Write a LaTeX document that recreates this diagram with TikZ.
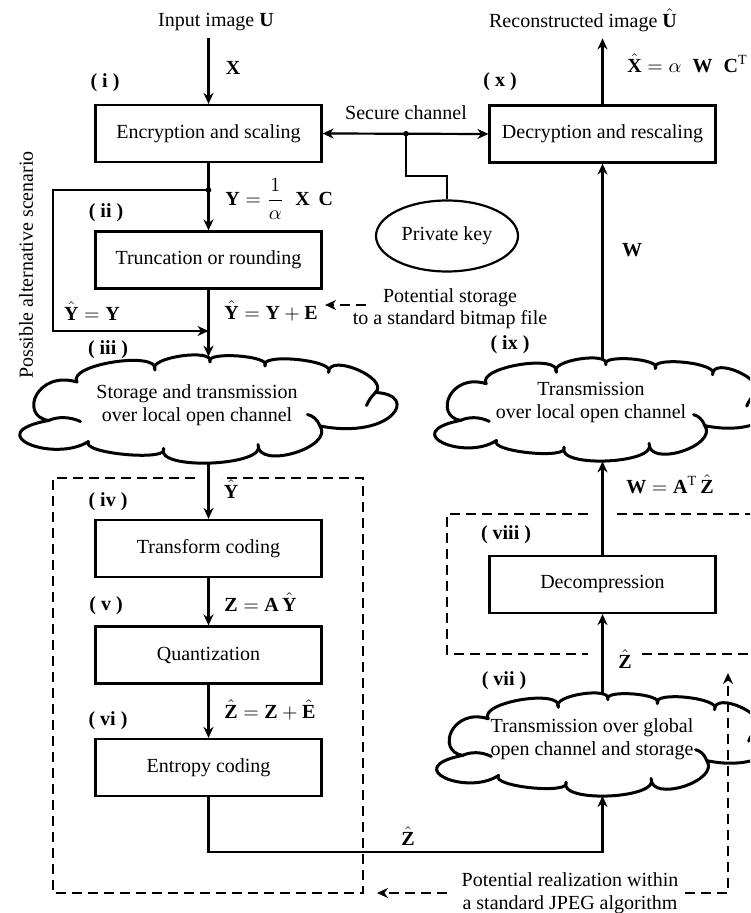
\documentclass[tikz,border=0pt]{standalone}
\usepackage{amsmath}
\usepackage{fontspec}
\setmainfont{Liberation Serif}
\usetikzlibrary{shapes.geometric,arrows.meta}

\begin{document}
\begin{tikzpicture}[x=0.5pt,y=-0.5pt,
  >={Stealth[length=5.5pt,width=5pt,inset=1.8pt]},
  every node/.style={font=\fontsize{10}{11.5}\selectfont},
  stage/.style={draw, line width=1.1pt, minimum width=113pt, minimum height=28.5pt, inner sep=0pt},
  cloudline/.style={line width=1.5pt, line join=round},
  curl/.style={line width=1.5pt, line cap=round},
  cloudbox/.style={inner sep=0pt, minimum width=150pt},
  cloudtext/.style={align=center, inner sep=0pt, font=\fontsize{10}{11.5}\selectfont},
  flow/.style={line width=1.1pt, ->},
  plain/.style={line width=1.1pt},
  dashline/.style={line width=1.1pt, dash pattern=on 5pt off 3pt},
  tag/.style={font=\bfseries\fontsize{10}{11.5}\selectfont, inner sep=0pt},
  lbl/.style={inner sep=0pt},
  dot/.style={circle, fill, inner sep=0pt, minimum size=2.8pt},
  cloudpic/.pic={
    \draw[cloudline] (-126.5,-26.5)
      .. controls (-137.3,-44.0) and (-43.5,-58.4) .. (-48.5,-38.5)
      .. controls (-57.3,-50.9) and (11.5,-60.9) .. (6.5,-46.5)
      .. controls (0.3,-57.7) and (69.3,-52.7) .. (61.5,-42.5)
      .. controls (54.8,-56.2) and (134.3,-48.1) .. (125,-36)
      .. controls (124.9,-56.2) and (186.7,-30.0) .. (172,-16)
      .. controls (217,-14) and (188.5,31.5) .. (116.5,17.5)
      .. controls (131.2,38.8) and (53.8,61.9) .. (54.5,36)
      .. controls (65.4,57.6) and (-49.1,62.4) .. (-40,40)
      .. controls (-33.2,53.3) and (-124.2,44.9) .. (-115,33)
      .. controls (-150,55) and (-225,25) .. (-155,12)
      .. controls (-185,7) and (-166.5,-38.5) .. (-126.5,-26.5) -- cycle;
    \draw[curl] (-155,12) .. controls (-146,8) and (-134,8) .. (-123,13);
    \draw[curl] (116.5,17.5) .. controls (114,11) and (109,7) .. (104,6);
    \draw[curl] (172,-16) .. controls (168,-12) and (165,-8) .. (163,-3);
  },
]
\useasboundingbox (0,0) rectangle (750,913);
\clip (0,0) rectangle (750,913);

% ---------- stages ----------
\node[stage] (b1)  at (208.5,133.5) {Encryption and scaling};
\node[stage] (b2)  at (208.5,260)   {Truncation or rounding};
\node[stage] (b4)  at (208.5,548.5) {Transform coding};
\node[stage] (b5)  at (208.5,655)   {Quantization};
\node[stage] (b6)  at (208.5,767.5) {Entropy coding};
\node[stage] (b8)  at (602.5,584.5) {Decompression};
\node[stage] (b10) at (602.5,134)   {Decryption and rescaling};

\node[ellipse, draw, line width=1.1pt, minimum width=71pt, minimum height=35.5pt, inner sep=0pt]
  (key) at (447,236) {Private key};

% ---------- clouds ----------
\node[cloudbox, minimum height=52.5pt] (c3) at (203.5,409.5) {};
\node[cloudbox, minimum height=51pt]   (c9) at (600,410)     {};
\node[cloudbox, minimum height=51pt]   (c7) at (602,744.5)   {};
\pic at (203.5,408.5) {cloudpic};
\pic[xscale=0.9, yscale=0.953] at (600,409) {cloudpic};
\pic[xscale=0.9, yscale=0.953] at (602,744) {cloudpic};
\node[cloudtext] (c3t) at (197,405) {Storage and transmission\\over local open channel};
\node[cloudtext] (c9t) at (591,403) {Transmission\\over local open channel};
\node[cloudtext] (c7t) at (592,739) {Transmission over global\\open channel and storage};

% ---------- texts ----------
\node (in)  at (216,22) {Input image \textbf{U}};
\node (out) at (583,20) {Reconstructed image $\hat{\mathbf{U}}$};
\node (sc)  at (406,113) {Secure channel};
\node[rotate=90] (alt) at (26,265) {Possible alternative scenario};
\node[align=center, font=\fontsize{10}{11}\selectfont] (pst) at (450,309)
  {Potential storage\\to a standard bitmap file};
\node[align=center, font=\fontsize{10}{11.5}\selectfont] (prj) at (570,893)
  {Potential realization within\\a standard JPEG algorithm};

\node[tag] (t1)  at (105,83)  {( i )};
\node[tag] (t2)  at (106,213) {( ii )};
\node[tag] (t3)  at (108,350) {( iii )};
\node[tag] (t4)  at (108,502) {( iv )};
\node[tag] (t5)  at (106,606) {( v )};
\node[tag] (t6)  at (108,721) {( vi )};
\node[tag] (t7)  at (504,681) {( vii )};
\node[tag] (t8)  at (506,535) {( viii )};
\node[tag] (t9)  at (510,345) {( ix )};
\node[tag] (t10) at (500,82)  {( x )};

\node[lbl] (lx)   at (233,68)  {$\mathbf{X}$};
\node[lbl, anchor=west] (ly) at (225,199) {$\mathbf{Y} = \dfrac{1}{\alpha}\;\;\mathbf{X}\;\,\mathbf{C}$};
\node[lbl] (lyy)  at (92,311)  {$\hat{\mathbf{Y}} = \mathbf{Y}$};
\node[lbl, anchor=west] (lye) at (224,311) {$\hat{\mathbf{Y}} = \mathbf{Y} + \mathbf{E}$};
\node[lbl] (lyh)  at (231,489) {$\hat{\mathbf{Y}}$};
\node[lbl, anchor=west] (lz) at (224,602) {$\mathbf{Z} = \mathbf{A}\,\hat{\mathbf{Y}}$};
\node[lbl, anchor=west] (lzh) at (224,710) {$\hat{\mathbf{Z}} = \mathbf{Z} + \hat{\mathbf{E}}$};
\node[lbl] (lzb)  at (408,836) {$\hat{\mathbf{Z}}$};
\node[lbl] (lzr)  at (625,659) {$\hat{\mathbf{Z}}$};
\node[lbl, anchor=west] (lw) at (626,484) {$\mathbf{W} = \mathbf{A}^{\mathrm{T}}\,\hat{\mathbf{Z}}$};
\node[lbl] (lww)  at (632,250) {$\mathbf{W}$};
\node[lbl, anchor=west] (lxh) at (627,63) {$\hat{\mathbf{X}} = \alpha\;\;\mathbf{W}\;\;\mathbf{C}^{\mathrm{T}}$};

% ---------- connectors ----------
\node[dot] (d1) at (208.5,190) {};
\node[dot] (d2) at (406,133.75) {};
\coordinate (m3) at (208.5,331);
\coordinate (zc) at (208.5,852);

\draw[flow] (b1.north |- in.south) -- (b1.north);
\draw[plain, <->] (b1.east) -- (b10.west);
\draw[plain] (d2.center) -- ++(0,42.5) -| (key.north);
\draw[flow] (b1.south) -- (b2.north);
\draw[flow] (d1.center) -- ++(-155.5,0) |- (m3);
\draw[flow] (b2.south) -- (b2.south |- c3.north);
\draw[flow] (b4.north |- c3.south) -- (b4.north);
\draw[flow] (b4.south) -- (b5.north);
\draw[flow] (b5.south) -- (b6.north);
\draw[flow] (b6.south) -- (zc) -| (b8.south |- c7.south);
\draw[flow] (b8.south |- c7.north) -- (b8.south);
\draw[flow] (b8.north) -- (b8.north |- c9.south);
\draw[flow] (b10.south |- c9.north) -- (b10.south);
\draw[flow] (b10.north) -- (b10.north |- out.south);

% ---------- dashed groups ----------
\draw[dashline] (195,478) -- (53,478) -- (53,893) -- (363,893) -- (363,478) -- (221,478);
\draw[dashline] (588,514) -- (447,514) -- (447,654) -- (588,654);
\draw[dashline] (617,514) -- (760,514);
\draw[dashline] (642,654) -- (760,654);

\coordinate (ps1) at (366,305);
\coordinate (ps2) at (325,305);
\draw[dashline, ->] (ps1) -- (ps2);
\coordinate (pr1) at (447,893);
\coordinate (pr2) at (377,893);
\coordinate (pr3) at (685,893);
\coordinate (pr4) at (728,673);
\draw[dashline, ->] (pr1) -- (pr2);
\draw[dashline, ->] (pr3) -| (pr4);
\end{tikzpicture}
\end{document}
